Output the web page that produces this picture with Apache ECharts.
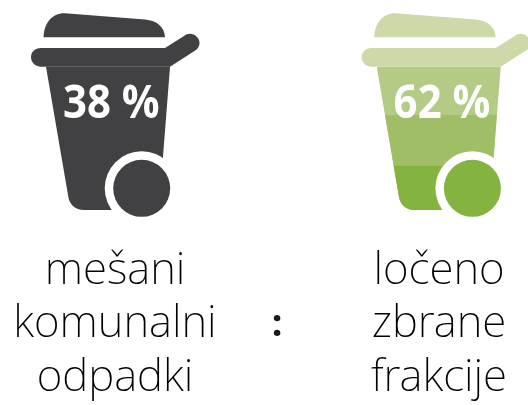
<!DOCTYPE html>
<html><head><meta charset="utf-8">
<style>html,body{margin:0;padding:0;background:#fff}#c{width:528px;height:405px}</style>
<script src="https://cdn.jsdelivr.net/npm/echarts@6/dist/echarts.min.js"></script></head>
<body><div id="c"></div>
<script>
var categories = ['mešani\nkomunalni\nodpadki', ':', 'ločeno\nzbrane\nfrakcije'];
var shares = [38, null, 62];
var shareLabels = ['38 %', '', '62 %'];

var darkBands = ['#414042'];
var greenBands = ['#b4cb85', '#9fbe65', '#84b340'];
var palettes = [{lid:'#414042', bands:darkBands, wheel:'#414042'}, null, {lid:'#cdd9a8', bands:greenBands, wheel:'#84b340'}];
var shifts = [0, 0, 6.7];
var LID = 'M43.5 37.3C44 23 52 13 65 13.3L145 19.5C157 20.5 164.5 27 165 37.3Z';
var RIM = 'M41 48L165 48L184 36C188 33 193 33 197 37C201 41 200 47 196 50L170 66.7L41 66.7C35 66.7 31 62 31 57.3C31 52 35 48 41 48Z';
var bandTops = [66.7, 115, 165.7];
function leftX(y){return 46 + (y-66.7)*0.1715;}
function rightX(y){return 170 - (y-66.7)*0.0811;}
function bodyFrom(y){
  return 'M'+leftX(y)+' '+y+'L'+rightX(y)+' '+y+'L160 195L150 210L84 210C75 210 69.5 204 68.3 196.7Z';
}
function renderItem(params, api){
  var i = api.value(0), p = palettes[i];
  if(!p) return {type:'group', children:[]};
  var c = api.coord([i, 100]);
  var kids = [];
  function path(d, fill){kids.push({type:'path', shape:{pathData:d}, style:{fill:fill}});}
  p.bands.forEach(function(col, k){path(bodyFrom(bandTops[k]), col);});
  path(RIM, p.lid);
  path(LID, p.lid);
  kids.push({type:'circle', shape:{cx:141.7, cy:188.3, r:37}, style:{fill:'#fff'}});
  kids.push({type:'circle', shape:{cx:141.7, cy:188.3, r:28.5}, style:{fill:p.wheel}});
  kids.push({type:'text', x:111.3, y:105, scaleY:1.09, style:{x:0, y:0, text:shareLabels[i], fill:'#fff',
    font:'700 42px "Open Sans"', align:'center', verticalAlign:'middle'}});
  return {type:'group', x:c[0]-115+shifts[i], y:c[1], children:kids};
}
var chart = echarts.init(document.getElementById('c'), null, {renderer:'canvas'});
chart.setOption({
  animation:false,
  grid:{left:34, width:486, top:0, height:232},
  xAxis:{type:'category', data:categories, axisLine:{show:false}, axisTick:{show:false},
    axisLabel:{interval:0, margin:17, fontFamily:'Noto Sans', fontWeight:200, fontSize:44, lineHeight:53.5, color:'#000', align:'center', verticalAlign:'top',
      formatter:function(v){return v===':' ? '\n{c|:}' : v;},
      rich:{c:{fontFamily:'Noto Sans', fontWeight:700, fontSize:38, lineHeight:53.5, color:'#1a1a1a'}}}},
  yAxis:{type:'value', min:0, max:100, show:false},
  series:[{type:'custom', clip:false, renderItem:renderItem, silent:true,
    data:categories.map(function(c,i){return [i, shares[i]==null?0:shares[i]];})}]
});
</script></body></html>
